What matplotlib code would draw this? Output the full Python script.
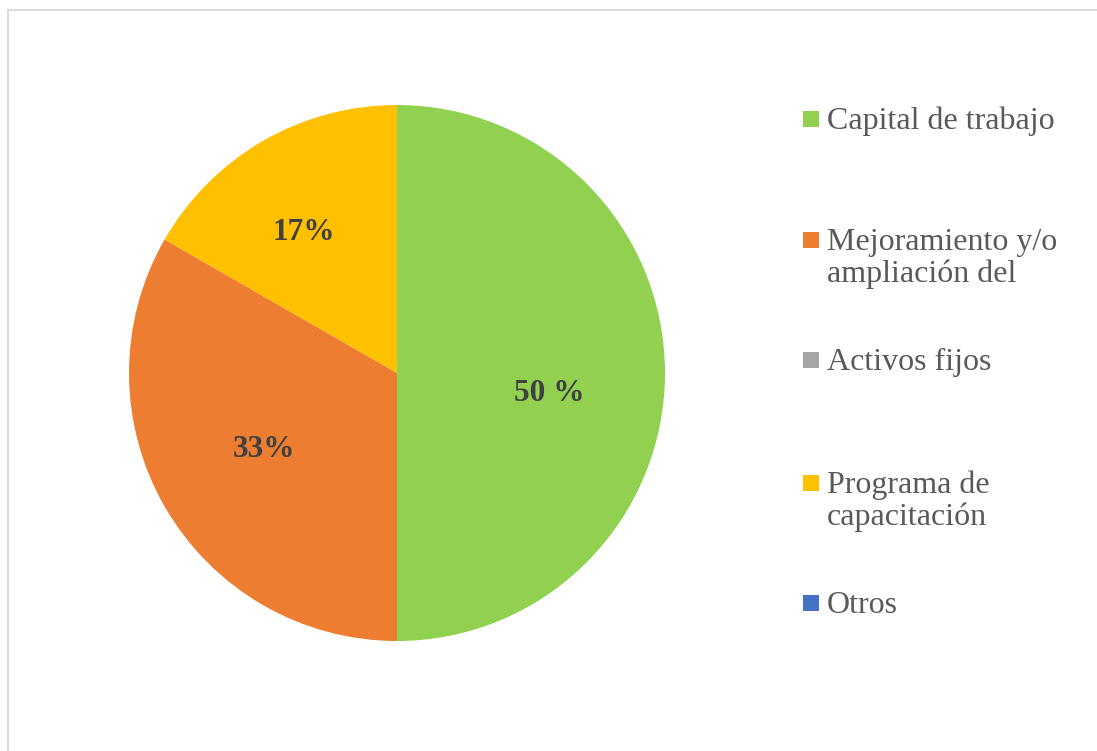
import matplotlib
matplotlib.use("Agg")
import matplotlib.pyplot as plt
from matplotlib.patches import Rectangle
from matplotlib.lines import Line2D

categories = ["Capital de trabajo", "Mejoramiento y/o\nampliación del",
              "Activos fijos", "Programa de\ncapacitación", "Otros"]
values = [50.0, 33.3, 0.0, 16.7, 0.0]
colors = ["#92D050", "#ED7D31", "#A5A5A5", "#FFC000", "#4472C4"]
pct_labels = ["50 %", "33%", None, "17%", None]
# label anchor positions in pie data units (radius = 1)
label_pos = [(0.567, -0.078), (-0.495, -0.287), None, (-0.347, 0.526), None]

W, H = 1097, 751
fig = plt.figure(figsize=(W / 100, H / 100), dpi=100)
fig.patch.set_facecolor("white")

# outer border (top and left visible)
fig.add_artist(Line2D([8 / W, 8 / W], [0, 1 - 10 / H], transform=fig.transFigure,
                      color="#D9D9D9", lw=1.3))
fig.add_artist(Line2D([8 / W, 1], [1 - 10 / H, 1 - 10 / H], transform=fig.transFigure,
                      color="#D9D9D9", lw=1.3))

cx, cy, r = 397, 373, 268
ax = fig.add_axes([(cx - r) / W, (H - cy - r) / H, 2 * r / W, 2 * r / H])
wedges, _ = ax.pie(values, colors=colors, startangle=90, counterclock=False,
                   radius=1.0, wedgeprops=dict(linewidth=0))
ax.set_xlim(-1, 1)
ax.set_ylim(-1, 1)
ax.set_aspect("equal")
ax.axis("off")

for lab, pos in zip(pct_labels, label_pos):
    if lab is None:
        continue
    ax.text(pos[0], pos[1], lab, ha="center", va="center",
            fontsize=22.5, fontweight="bold", color="#404040",
            family="Liberation Serif")

# legend
first_line_centers = [119, 240, 360, 483, 603]
line_pitch = 32
for cat, col, yc in zip(categories, colors, first_line_centers):
    fig.add_artist(Rectangle((803 / W, 1 - (yc + 8) / H), 16 / W, 16 / H,
                             transform=fig.transFigure, facecolor=col,
                             edgecolor="none"))
    for i, line in enumerate(cat.split("\n")):
        fig.text(827 / W, 1 - (yc + 10 + i * line_pitch) / H, line, ha="left",
                 va="baseline", fontsize=23, color="#595959",
                 family="Liberation Serif")

fig.savefig("out.png", dpi=100, facecolor="white")
